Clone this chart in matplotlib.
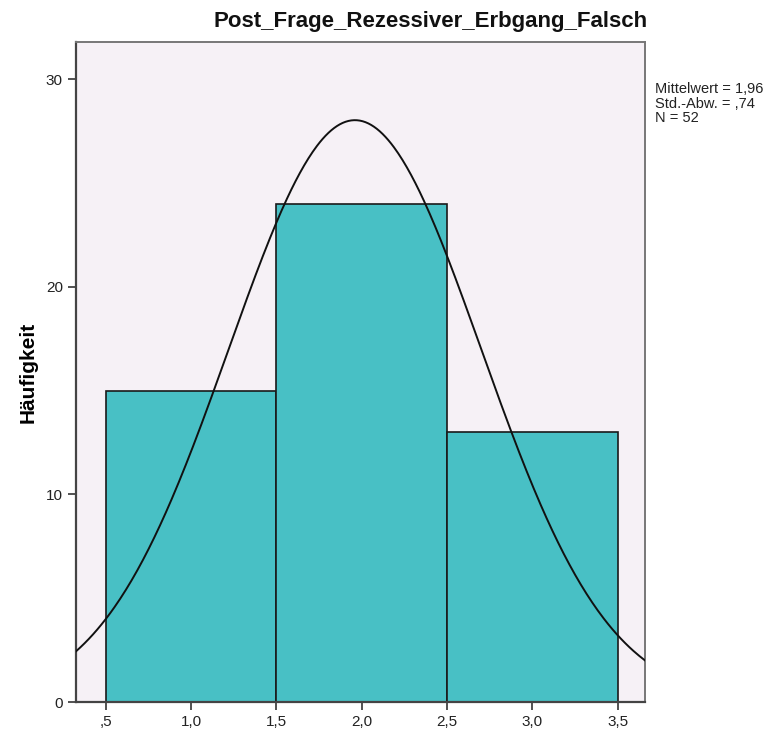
import numpy as np
from matplotlib import pyplot as plt

# histogram data (SPSS)
bin_edges = [0.5, 1.5, 2.5, 3.5]
counts = [15, 24, 13]
mean_val = 1.96
sd_val = 0.74
n_val = 52

x_ticks = [0.5, 1.0, 1.5, 2.0, 2.5, 3.0, 3.5]
x_labels = [",5", "1,0", "1,5", "2,0", "2,5", "3,0", "3,5"]
y_ticks = [0, 10, 20, 30]

plt.rcParams['font.family'] = ['Liberation Sans', 'DejaVu Sans']

fig = plt.figure(figsize=(7.71, 7.33), dpi=100)
ax = fig.add_axes([76/771, 31/733, 569/771, 660/733])
ax.set_facecolor("#f6f1f6")

widths = np.diff(bin_edges)
ax.bar(bin_edges[:-1], counts, width=widths, align="edge",
       color="#48c0c5", edgecolor="#1a1a1a", linewidth=1.2, zorder=2)

xmin, xmax = 0.325, 3.66
xs = np.linspace(xmin, xmax, 400)
bw = 1.0
ys = n_val * bw / (sd_val * np.sqrt(2 * np.pi)) * np.exp(-0.5 * ((xs - mean_val) / sd_val) ** 2)
ax.plot(xs, ys, color="#111111", linewidth=1.4, zorder=3)

ax.set_xlim(xmin, xmax)
ax.set_ylim(0, 31.8)
ax.set_xticks(x_ticks)
ax.set_xticklabels(x_labels, fontsize=11)
ax.set_yticks(y_ticks)
ax.set_yticklabels([str(v) for v in y_ticks], fontsize=11)
ax.tick_params(direction="out", length=6, width=1.2, color="#333333", labelcolor="#222222")

for s in ["left", "bottom"]:
    ax.spines[s].set_color("#444444")
    ax.spines[s].set_linewidth(1.6)
for s in ["top", "right"]:
    ax.spines[s].set_color("#777777")
    ax.spines[s].set_linewidth(1.4)

ax.set_ylabel("Häufigkeit", fontsize=15, fontweight="bold", labelpad=6)

fig.text(648/771, 1 - 22/733, "Post_Frage_Rezessiver_Erbgang_Falsch",
         ha="right", va="center", fontsize=16, fontweight="bold", color="#111111")

stats = "Mittelwert = 1,96\nStd.-Abw. = ,74\nN = 52"
fig.text(655/771, 1 - 82/733, stats, ha="left", va="top", fontsize=10.5,
         linespacing=1.05, color="#222222")

plt.savefig("out.png", dpi=100)
